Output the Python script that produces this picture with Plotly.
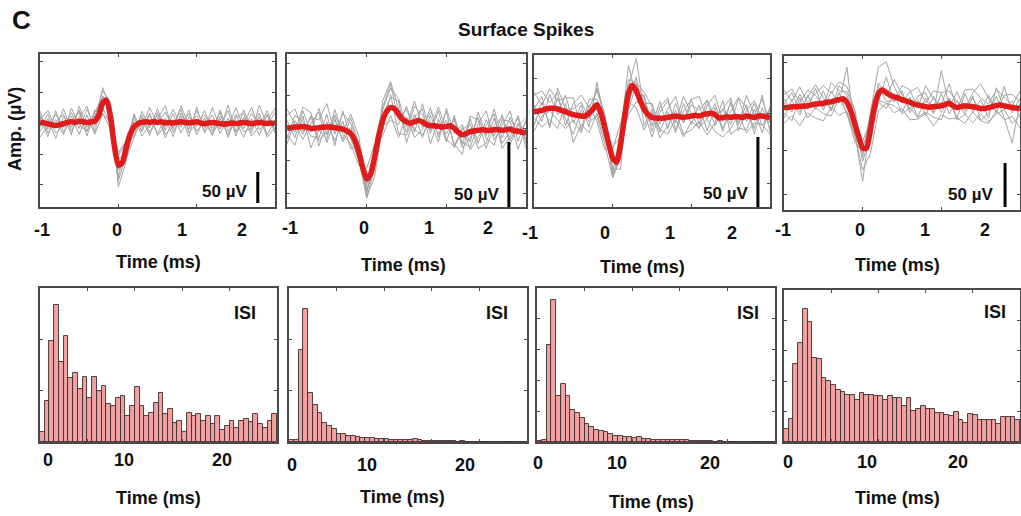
import numpy as np
import plotly.graph_objects as go

# ---------------------------------------------------------------------------
# Spike waveforms (µV). Mean sampled every 0.05 ms, single sweeps every 0.1 ms.
# ---------------------------------------------------------------------------
T_MEAN = np.round(np.arange(-1.0, 2.0001, 0.05), 2)
T_SWEEP = T_MEAN[::2]

MEAN_1 = [1, 0, -1, -3, -4, -3, -1, 1, 2, 1, 3, 2, 1, 2, 3, 12, 32, 37, 10, -38,
          -68, -64, -40, -18, -6, -1, 1, 2, 1, 2, 1, 2, 0, 1, 0, 1, 2, 1, 0, 1,
          2, 0, -1, 0, 1, 0, -1, -2, -1, 0, -1, 0, 1, 0, -1, 0, 1, 0, -1, 0, -1]
MEAN_2 = [0, 0.5, 1, 1, 1.5, 1, 0, 0, 0.5, 1, 1, 1, 0.5, 0, -0.5, -2, -4, -9, -18, -30,
          -39, -35, -22, -6, 6, 13, 16, 15, 11, 7, 5, 4, 5, 6, 5, 3, 2, 2, 1.5, 1,
          1.5, 2, 0, -3, -5, -4, -2.5, -2, -1.5, -1, -1.5, -1.5, -1, -1, -1.5, -1, -0.5, -2, -2, -3, -3.5]
MEAN_3 = [1, 1.5, 2, 3, 3.5, 3.5, 3, 2, 1, 0, -1, -1.5, -2, -2, 0, 3, 6, 0, -10, -22,
          -32, -35, -22, -3, 14, 20, 16, 9, 3, -1, -3, -3.5, -3.5, -3.5, -3, -2.5, -2, -2.5, -3, -2.5,
          -2, -1.5, -2, -1, -0.5, 0, -1, -3.5, -3, -2.5, -3, -2.5, -2.5, -3, -2, -2.5, -3, -2, -2, -2.5, -3]
MEAN_4 = [-1, -1, 0, 0, 0.5, 0.5, 1, 2, 3, 3.5, 4, 5, 5.5, 7, 8, 9, 5, -5, -20, -34,
          -47, -47, -25, 0, 15, 19, 16, 13, 11, 10, 8, 6.5, 5, 3, 2, 1, 0, -0.5, 0, 0.5,
          1, 2.5, 4, 1, -1, 0, 1, 0.5, 0, -1, -2, -2, -1, 0, 1.5, 2, 1, 0, -1, -1.5, -2]

# Individual sweeps, as offsets (µV) from the mean at the 0.1 ms samples
SWEEPS_1 = [
    [12, -9, 18, -6, 15, -12, 21, -8, 25, 14, -20, 8, -15, 18, -9, 22, -12, 15, -18, 9, -8, 21, -14, 12, -6, 26, -10, 16, -4, 14, -9],
    [-15, 8, -21, 12, -9, 18, -14, 9, -8, -12, 10, -9, 21, -15, 12, -18, 8, -22, 14, -10, 18, -6, 12, -16, 9, -14, 20, -9, 15, -18, 6],
    [4, 21, -4, 24, -15, 6, 26, -18, 12, 18, -35, -22, 12, -8, 24, -3, 18, -9, 26, -4, 10, -12, 24, -6, 21, -20, 8, -15, 28, -3, 18],
    [-24, -4, 9, -18, 22, -6, -15, 18, -16, -20, 15, 10, 18, -22, -4, 12, -24, 6, -9, 21, -21, 9, -20, 22, -12, 4, -24, 8, -21, 15, -14],
    [18, -15, 6, 15, -21, 24, -8, 6, 20, 22, -25, -12, -6, 12, -16, 6, 28, -15, 9, -22, 24, -15, 4, -9, 30, -12, -3, 26, -12, 4, 25],
    [-8, 15, -12, -3, 9, -21, 12, -21, -18, -8, 20, 12, 6, -12, 15, -21, -4, 22, -6, 15, -15, 4, -21, 8, -18, 15, -15, -8, 9, -22, -6],
    [9, -21, 24, -14, 3, 14, -22, 14, 10, 8, -8, -18, -18, 8, -21, 16, -18, -6, 20, -15, -3, 14, -9, 18, -22, 10, 15, -20, -6, 21, -15],
]
SWEEPS_2 = [
    [6, -8, 12, -3, 15, -6, 8, -10, 5, -4, -12, 8, 10, 18, -5, 10, -8, 14, -6, 12, -10, -14, 6, -8, 14, -4, 16, -6, 9, -3, 8],
    [-12, 5, -6, 10, -14, 4, -10, 6, -12, 8, -10, -5, -8, 10, -15, -10, 6, -12, 8, -6, 5, -12, -15, 10, -10, 8, -5, 12, -9, 6, -5],
    [10, 14, -4, 8, 6, 18, -5, 12, 8, 5, -15, -8, 15, 20, 4, -8, 12, 5, -3, 15, -2, 6, -6, -12, 5, 15, -8, 4, 14, -8, 10],
    [-5, -14, 8, -15, -2, -9, 14, -4, -8, -10, 8, 10, -12, -6, -18, 4, -12, -6, 14, -8, 12, -15, 4, 6, -14, -10, 9, -10, -2, 10, -12],
    [15, 2, -10, 4, 12, -12, 6, -8, 12, 6, -8, -10, 4, 8, 10, -16, 4, 10, -14, 5, -6, 8, -10, -5, 10, -6, -12, 8, 6, -14, 4],
    [-8, 9, 4, -6, -8, 10, -14, 14, -4, -6, -14, -15, -4, -10, -8, 12, -6, -10, 4, -12, 14, -4, 8, -14, -5, 4, 12, -14, -6, 12, -8],
    [3, -4, 15, 12, -10, -4, 10, -2, 15, 12, -5, 4, 8, 15, 12, -4, 16, -4, 10, 6, -12, 10, -8, 12, 8, -14, 3, 10, -12, 4, 12],
]
SWEEPS_3 = [
    [5, -8, 10, -4, 12, -6, 8, -10, 16, 5, -10, 6, 20, -4, 10, -6, 12, -8, 9, -4, 12, -6, 10, -8, 6, -5, 13, -4, 10, -7, 5],
    [-10, 6, -12, 8, -5, -14, 4, -6, -8, -12, -14, -10, -8, 10, -12, 6, -10, 4, -12, 10, -6, 8, -12, 5, -10, 12, -4, 8, -12, 6, -8],
    [12, 14, 4, 12, -10, 8, 15, 4, 10, 10, -8, -18, 5, 23, -2, -14, 4, 12, -5, 15, 2, -9, 6, 14, -3, 10, -6, 15, 2, 12, -4],
    [-4, -12, -8, -14, 6, -20, -6, -14, -6, -8, 6, 15, -6, -12, -15, 4, -14, -6, 4, -12, -10, -4, -15, -6, 12, -12, -8, -10, 6, -12, 8],
    [14, 4, 14, 6, 10, 12, -10, 10, 4, 8, -12, -5, -12, 5, 8, -10, 8, 14, -10, 4, 12, 14, -4, 8, -8, 4, 14, 6, -8, 15, -10],
    [-14, -4, -2, -8, -12, -4, -12, 6, -12, -16, 8, 5, -15, -8, 4, 10, -8, -12, -2, -14, -4, -8, -4, -12, -14, -8, 2, -12, -4, -6, -12],
    [2, 10, -14, 15, 2, 4, 10, -4, 12, 6, -14, -8, 10, 6, 12, 8, -4, 6, 14, -4, 8, 4, 10, -2, 6, 14, -10, 4, 12, -2, 6],
]
SWEEPS_4 = [
    [10, -6, 14, -4, 18, -8, 12, -4, 40, -10, -38, 8, -10, 18, -6, 10, -12, 6, -10, 12, -8, 6, -12, 14, -6, 10, -12, 20, -4, 8, -10],
    [-12, 8, -10, 12, -6, 14, -10, 8, -14, -12, -25, -28, -20, -12, -10, -14, 6, -14, 10, -8, 14, -12, 8, -10, 12, -14, -6, 10, -14, -40, 6],
    [15, 20, 4, 18, 10, -4, 22, 10, 12, 15, -10, 18, 30, 35, 12, -4, 12, 20, 4, 18, 15, 14, 6, -4, 16, 28, 10, -8, 12, 15, 8],
    [-18, -10, -22, -8, -16, -20, -6, -18, -10, -14, 8, 10, -8, -12, -18, -10, -20, -16, -8, -22, -10, -18, -12, -20, -6, -14, -18, -6, -16, -10, -22],
    [4, 16, -6, 10, 22, 6, -10, 16, 8, 5, -15, -6, 12, -4, 20, 6, -8, 10, 16, -6, 40, -4, 18, -6, 10, -4, 14, -8, 22, -6, 12],
    [-6, -16, 10, -14, -4, -12, -16, 2, -12, -20, -5, -12, -10, -18, 4, -16, -6, -14, -6, -12, -16, 4, -14, -10, -18, -6, -16, -10, -4, -18, -8],
    [20, 6, 22, 4, 12, 20, 10, 20, 18, 16, -2, 14, 8, -10, -4, 16, 14, -4, 24, 8, 2, 22, -2, 18, 20, 12, 4, 18, 10, 2, 20],
]

# ---------------------------------------------------------------------------
# Inter-spike-interval histograms: counts in 0.5 ms bins from 0 to 25 ms
# ---------------------------------------------------------------------------
ISI_BIN_MS = 0.5
ISI_1 = [20, 79, 196, 266, 155, 206, 125, 134, 103, 126, 86, 126, 99, 110, 75, 70, 86, 90, 50, 70,
         107, 70, 50, 56, 76, 95, 55, 64, 37, 40, 20, 56, 50, 55, 40, 50, 36, 50, 24, 31,
         40, 27, 40, 45, 38, 55, 36, 27, 40, 55]
ISI_2 = [3, 3, 179, 260, 95, 73, 56, 37, 32, 25, 16, 16, 12, 11, 9, 8, 7, 7, 5, 5,
         5, 4, 4, 3, 3, 3, 5, 3, 2, 2, 2, 2, 1, 1, 1, 0, 1, 0, 0, 0,
         0, 0, 0, 0, 0, 0, 0, 0, 0, 0]
ISI_3 = [4, 5, 315, 462, 149, 187, 149, 104, 95, 79, 58, 49, 38, 36, 33, 25, 20, 21, 15, 17,
         14, 17, 10, 9, 8, 7, 8, 7, 6, 6, 5, 5, 4, 4, 3, 2, 2, 1, 2, 1,
         1, 0, 1, 1, 0, 1, 0, 1, 1, 0]
ISI_4 = [43, 76, 257, 327, 438, 396, 276, 273, 210, 200, 188, 172, 163, 153, 155, 139, 161, 153, 155, 152,
         152, 139, 150, 145, 145, 117, 145, 101, 109, 117, 109, 109, 95, 95, 90, 87, 98, 74, 63, 92,
         90, 74, 74, 74, 74, 59, 82, 82, 82, 74]

SCALE_UV = 50
SCALE_LABEL = "50 µV"
TOP_TICKS = ["-1", "0", "1", "2"]
BOTTOM_TICKS = ["0", "10", "20"]

MEANS = [MEAN_1, MEAN_2, MEAN_3, MEAN_4]
SWEEPS = [SWEEPS_1, SWEEPS_2, SWEEPS_3, SWEEPS_4]
ISIS = [ISI_1, ISI_2, ISI_3, ISI_4]

# ---------------------------------------------------------------------------
# Layout geometry (pixels on a 1021 x 516 canvas)
# ---------------------------------------------------------------------------
W, H = 1021, 516
FONT = "Liberation Sans"

TOP_BOXES = [(40, 275, 54, 207), (287, 526, 54, 207), (534, 770, 55, 207), (784, 1020, 56, 210)]
BOT_BOXES = [(40, 277, 288, 442), (289, 527, 288, 442), (537, 775, 288, 442), (784, 1020, 290, 442)]
AMP_RANGES = [(-135.5, 111.3), (-60.5, 57.2), (-67, 41.6), (-117.4, 57.6)]
AMP_DTICK = [50, 25, 25, 50]
COUNT_MAX = [300, 300, 500, 500]
SCALE_BAR_T = [1.78, 1.785, 1.846, 1.81]
SCALE_BAR_BASE = [-129, -60.5, -67, -114]

TOP_TICK_POS = [((42, 117, 182, 242), 230), ((290, 364, 429, 488), 228),
                ((530, 605, 670, 732), 233), ((783, 860, 925, 985), 230)]
BOT_TICK_POS = [((48, 124, 222), 460), ((292, 367, 465), 465),
                ((538, 617, 710), 463), ((788, 867, 958), 462)]
TOP_XTITLE_POS = [(158, 262), (403, 265), (642, 267), (897, 265)]
BOT_XTITLE_POS = [(158, 498), (402, 497), (651, 502), (897, 498)]
SCALE_TEXT_POS = [(224, 191), (476, 194), (725, 193), (970, 194)]
ISI_TEXT_POS = [(245, 313), (497, 313), (748, 313), (995, 312)]

FRAME = "#4a4a4a"
SWEEP_COLOR = "#a3a3a3"
MEAN_COLOR = "#e01b1b"
BAR_FILL = "#f2a2a2"
BAR_EDGE = "#3d2a2a"


def axis_id(k, letter):
    return letter if k == 1 else f"{letter}{k}"


def layout_key(k, letter):
    return f"{letter}axis" if k == 1 else f"{letter}axis{k}"


def frame_axis(**kw):
    base = dict(showline=True, mirror="ticks", linecolor=FRAME, linewidth=1.5,
                ticks="inside", ticklen=3, tickwidth=1, tickcolor=FRAME,
                showticklabels=False, showgrid=False, zeroline=False, fixedrange=True)
    base.update(kw)
    return base


def text(s, xp, yp, size, angle=0):
    return dict(text=s, x=xp / W, y=1 - yp / H, xref="paper", yref="paper",
                xanchor="center", yanchor="middle", showarrow=False, textangle=angle,
                font=dict(family=FONT, size=size, color="#111111", weight="bold"))


fig = go.Figure()
shapes = []
annotations = []
layout = {}

for i in range(4):
    # ---- waveform panel ----
    k = i + 1
    xa, ya = axis_id(k, "x"), axis_id(k, "y")
    mean = np.asarray(MEANS[i], dtype=float)
    for dev in SWEEPS[i]:
        fig.add_trace(go.Scatter(x=T_SWEEP, y=mean[::2] + np.asarray(dev, dtype=float),
                                 mode="lines", line=dict(color=SWEEP_COLOR, width=1),
                                 xaxis=xa, yaxis=ya, hoverinfo="skip"))
    fig.add_trace(go.Scatter(x=T_MEAN, y=mean, mode="lines",
                             line=dict(color=MEAN_COLOR, width=5.5, shape="spline", smoothing=0.6),
                             xaxis=xa, yaxis=ya, hoverinfo="skip"))
    x0, x1, y0, y1 = TOP_BOXES[i]
    layout[layout_key(k, "x")] = frame_axis(domain=[x0 / W, x1 / W], range=[-1, 2],
                                            tickvals=[-1, 0, 1, 2], anchor=ya)
    layout[layout_key(k, "y")] = frame_axis(domain=[1 - y1 / H, 1 - y0 / H],
                                            range=list(AMP_RANGES[i]), dtick=AMP_DTICK[i],
                                            anchor=xa)
    shapes.append(dict(type="line", xref=xa, yref=ya,
                       x0=SCALE_BAR_T[i], x1=SCALE_BAR_T[i],
                       y0=SCALE_BAR_BASE[i], y1=SCALE_BAR_BASE[i] + SCALE_UV,
                       line=dict(color="black", width=3)))
    annotations.append(text(SCALE_LABEL, *SCALE_TEXT_POS[i], 17))
    xs, yt = TOP_TICK_POS[i]
    for lab, xp in zip(TOP_TICKS, xs):
        annotations.append(text(lab, xp, yt, 18))
    annotations.append(text("Time (ms)", *TOP_XTITLE_POS[i], 18))

    # ---- ISI histogram panel ----
    k = i + 5
    xa, ya = axis_id(k, "x"), axis_id(k, "y")
    counts = ISIS[i]
    centers = (np.arange(len(counts)) + 0.5) * ISI_BIN_MS
    fig.add_trace(go.Bar(x=centers, y=counts, width=ISI_BIN_MS,
                         marker=dict(color=BAR_FILL, line=dict(color=BAR_EDGE, width=0.9)),
                         xaxis=xa, yaxis=ya, hoverinfo="skip"))
    x0, x1, y0, y1 = BOT_BOXES[i]
    layout[layout_key(k, "x")] = frame_axis(domain=[x0 / W, x1 / W], range=[0, 25],
                                            dtick=5, anchor=ya)
    layout[layout_key(k, "y")] = frame_axis(domain=[1 - y1 / H, 1 - y0 / H],
                                            range=[0, COUNT_MAX[i]], dtick=100, anchor=xa)
    annotations.append(text("ISI", *ISI_TEXT_POS[i], 18))
    xs, yt = BOT_TICK_POS[i]
    for lab, xp in zip(BOTTOM_TICKS, xs):
        annotations.append(text(lab, xp, yt, 18))
    annotations.append(text("Time (ms)", *BOT_XTITLE_POS[i], 18))

annotations.append(text("C", 21, 20, 26))
annotations.append(text("Surface Spikes", 526, 30, 19))
annotations.append(text("Amp. (µV)", 15, 129, 18, angle=-90))

fig.update_layout(width=W, height=H, margin=dict(l=0, r=0, t=0, b=0),
                  paper_bgcolor="white", plot_bgcolor="white", showlegend=False,
                  bargap=0, shapes=shapes, annotations=annotations, **layout)

fig.write_html("out.html")
